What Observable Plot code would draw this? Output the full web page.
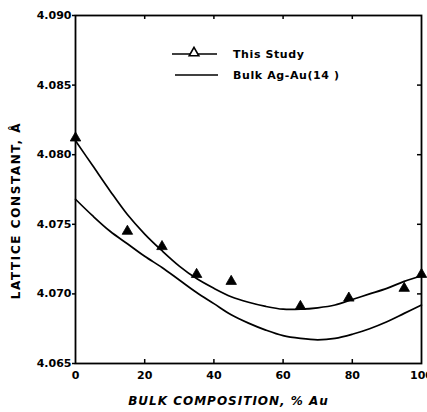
<!DOCTYPE html>
<html><head><meta charset="utf-8">
<script src="https://cdn.jsdelivr.net/npm/d3@7"></script>
<script src="https://cdn.jsdelivr.net/npm/@observablehq/plot@0.6"></script>
<style>
body{margin:0;background:#fff;}
#chart{position:relative;width:427px;height:412px;overflow:hidden;}
</style></head><body><div id="chart"></div>
<script>
const xTicks = [0, 20, 40, 60, 80, 100];
const yTicks = [4.065, 4.070, 4.075, 4.080, 4.085, 4.090];
const studyComp = [0, 15, 25, 35, 45, 65, 79, 95, 100];
const studyLattice = [4.0812, 4.0745, 4.0734, 4.0714, 4.0709, 4.0691, 4.0697, 4.0704, 4.0714];
const curveComp = [0, 5, 10, 15, 20, 25, 30, 35, 40, 45, 50, 55, 60, 65, 70, 75, 80, 85, 90, 95, 100];
const fitLattice = [4.0810, 4.0792, 4.0774, 4.0757, 4.0743, 4.0731, 4.0720, 4.0711, 4.0704, 4.0698, 4.0694, 4.0691, 4.0689, 4.0689, 4.0690, 4.0692, 4.0696, 4.0700, 4.0704, 4.0709, 4.0713];
const bulkLattice = [4.0768, 4.0756, 4.0745, 4.0736, 4.0727, 4.0719, 4.0710, 4.0701, 4.0693, 4.0685, 4.0679, 4.0674, 4.0670, 4.0668, 4.0667, 4.0668, 4.0671, 4.0675, 4.0680, 4.0686, 4.0692];
const legendLabels = ["This Study", "Bulk Ag-Au(14 )"];
const xLabel = "BULK COMPOSITION, % Au";
const yLabel = "LATTICE CONSTANT, Å";

const study = studyComp.map((c, i) => ({c, v: studyLattice[i]}));
const fit = curveComp.map((c, i) => ({c, v: fitLattice[i]}));
const bulk = curveComp.map((c, i) => ({c, v: bulkLattice[i]}));

const W = 427, H = 412, mL = 75, mR = 6, mT = 15, mB = 49;
const fw = W - mL - mR, fh = H - mT - mB;
const font = "'DejaVu Sans', sans-serif";

function legend(index, scales, values, dims) {
  const g = d3.create("svg:g");
  const rows = [{y: 54, x1: 172, x2: 217, tri: true}, {y: 75, x1: 175, x2: 218, tri: false}];
  rows.forEach((r, i) => {
    g.append("line").attr("x1", r.x1).attr("x2", r.x2).attr("y1", r.y).attr("y2", r.y)
      .attr("stroke", "#000").attr("stroke-width", 1.6);
    if (r.tri) g.append("path").attr("d", d3.symbol(d3.symbolTriangle, 40)())
      .attr("transform", `translate(${194},${r.y - 1})`).attr("fill", "#fff").attr("stroke", "#000").attr("stroke-width", 1.6);
    g.append("text").attr("x", 233).attr("y", r.y).attr("dy", "0.35em")
      .attr("text-anchor", "start")
      .attr("font-family", font).attr("font-weight", "bold").attr("font-size", 11)
      .attr("letter-spacing", "0.6px").text(legendLabels[i]);
  });
  return g.node();
}

const chart = Plot.plot({
  width: W, height: H,
  marginLeft: mL, marginRight: mR, marginTop: mT, marginBottom: mB,
  style: {fontFamily: font, fontWeight: "bold", fontSize: "11px", background: "#fff", color: "#000"},
  x: {domain: [0, 100], ticks: xTicks},
  y: {domain: [4.065, 4.090], ticks: yTicks},
  marks: [
    Plot.frame({stroke: "#000", strokeWidth: 1.8}),
    Plot.axisX({ticks: xTicks, tickSize: 0, tickPadding: 8, label: null, fontSize: 11, fontWeight: "bold"}),
    Plot.axisY({ticks: yTicks, tickSize: 3, tickPadding: 1, tickFormat: d3.format(".3f"), label: null, fontSize: 11, fontWeight: "bold", strokeWidth: 1.5}),
    Plot.tickX(xTicks.slice(1, -1), {x: d => d, insetTop: fh - 4, strokeWidth: 1.5}),
    Plot.tickX(xTicks.slice(1, -1), {x: d => d, insetBottom: fh - 4, strokeWidth: 1.5}),
    Plot.tickY(yTicks.slice(1, -1), {y: d => d, insetLeft: fw - 4, strokeWidth: 1.5}),
    Plot.line(fit, {x: "c", y: "v", curve: "catmull-rom", stroke: "#000", strokeWidth: 1.7}),
    Plot.line(bulk, {x: "c", y: "v", curve: "catmull-rom", stroke: "#000", strokeWidth: 1.7}),
    Plot.dot(study, {x: "c", y: "v", symbol: "triangle", r: 3.9, fill: "#000", stroke: "#000", strokeWidth: 0.8}),
    Plot.text([xLabel], {frameAnchor: "bottom", textAnchor: "middle", dx: -20, dy: 41, text: d => d, fontSize: 12, fontWeight: "bold", fontStyle: "italic"}),
    Plot.text([yLabel], {frameAnchor: "left", textAnchor: "middle", dx: -59, dy: 21, rotate: -90, text: d => d, fontSize: 12, fontWeight: "bold"}),
    legend
  ]
});
chart.querySelectorAll("text").forEach(t => {
  if (t.textContent === xLabel) t.style.letterSpacing = "1px";
  if (t.textContent === yLabel) t.style.letterSpacing = "1.6px";
});
document.getElementById("chart").appendChild(chart);
</script></body></html>
